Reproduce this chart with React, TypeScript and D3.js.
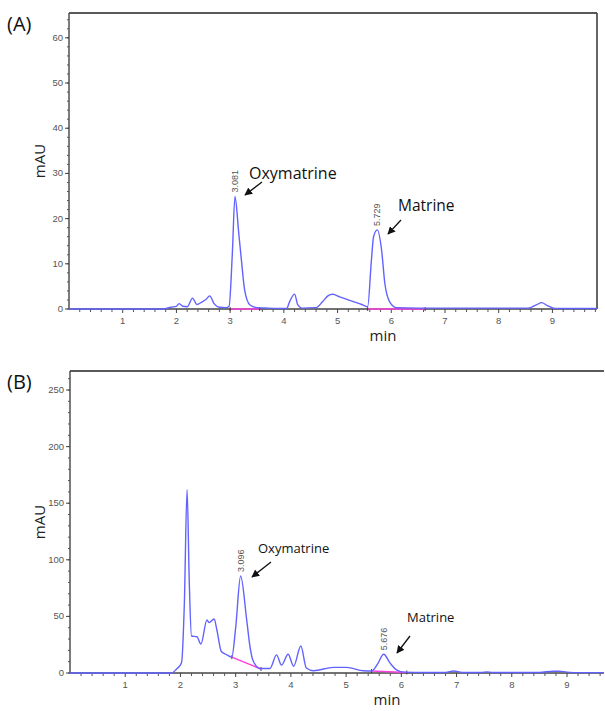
import React from 'react';
import { scaleLinear, line, curveMonotoneX, range } from 'd3';

// chromatogram (A)
const timeA = [0, 1.75, 1.9, 2.0, 2.05, 2.12, 2.2, 2.3, 2.38, 2.48, 2.55, 2.62, 2.7, 2.8, 2.92, 2.98, 3.04, 3.09, 3.16, 3.21, 3.27, 3.37, 3.5, 3.7, 4.05, 4.11, 4.2, 4.26, 4.34, 4.6, 4.72, 4.82, 4.91, 5.04, 5.28, 5.45, 5.56, 5.63, 5.67, 5.74, 5.82, 5.88, 5.97, 6.1, 6.5, 8.55, 8.7, 8.8, 8.9, 9.05, 9.83];
const mauA = [0, 0, 0.4, 0.6, 1.2, 0.6, 0.5, 2.4, 1.0, 1.6, 2.1, 2.9, 1.2, 0.4, 0.3, 0.6, 12, 24.9, 16.8, 10.8, 4.2, 0.9, 0.3, 0.2, 0.1, 1.7, 3.3, 0.9, 0.2, 0.3, 1.6, 2.9, 3.25, 2.7, 1.7, 1.0, 0.5, 10.8, 16, 17.5, 13, 5.7, 1.6, 0.3, 0.2, 0.2, 0.9, 1.4, 0.8, 0.1, 0.1];
const baselinesA = [[3.0, 0, 3.55, 0], [5.56, 0, 6.63, 0]];

// chromatogram (B)
const timeB = [0, 1.84, 1.93, 2.02, 2.07, 2.12, 2.16, 2.2, 2.3, 2.37, 2.48, 2.52, 2.61, 2.66, 2.74, 2.84, 2.93, 3.0, 3.09, 3.2, 3.26, 3.31, 3.44, 3.62, 3.74, 3.83, 3.95, 4.05, 4.18, 4.28, 4.41, 4.77, 5.01, 5.31, 5.46, 5.57, 5.68, 5.8, 5.92, 6.05, 6.4, 6.8, 6.95, 7.1, 7.45, 7.55, 7.65, 8.5, 8.75, 8.85, 9.0, 9.2, 9.67];
const mauB = [0, 0, 3.5, 9, 60, 162, 80, 32.7, 32, 25.6, 46.8, 44.5, 47.7, 38, 19, 16, 14, 40, 85.7, 46.8, 23, 11.5, 4, 4, 16, 7, 16.5, 6, 23.8, 4.4, 2, 5, 5, 2, 1.8, 8, 16.5, 8.5, 2.6, 0.8, 0.5, 0.5, 1.8, 0.5, 0.5, 1.0, 0.5, 0.5, 1.6, 1.6, 0.8, 0.3, 0.3];
const baselinesB = [[2.93, 14, 3.46, 3.5], [5.46, 1.8, 6.1, 0.5]];

const xTicks = [1, 2, 3, 4, 5, 6, 7, 8, 9];
const yTicksA = [0, 10, 20, 30, 40, 50, 60];
const yTicksB = [0, 50, 100, 150, 200, 250];

const peakLabelsA = [{ rt: '3.081', t: 3.09, v: 24.9 }, { rt: '5.729', t: 5.74, v: 17.5 }];
const peakLabelsB = [{ rt: '3.096', t: 3.09, v: 85.7 }, { rt: '5.676', t: 5.68, v: 16.5 }];

const tickFont = '"Liberation Sans Narrow", "Liberation Sans", Arial, sans-serif';
const textFont = '"Open Sans", "Noto Sans", sans-serif';

type Ann = { name: string; size: number; tx: number; ty: number; x1: number; y1: number; x2: number; y2: number };

function Panel({ letter, top, bottom, left, right, xMax, yMax, yMinor, times, values, baselines, yTicks, peaks, anns, frameRight }: any) {
  const x = scaleLinear().domain([0, xMax]).range([left, right]);
  const y = scaleLinear().domain([0, yMax]).range([bottom, top]);
  const pts = times.map((t: number, i: number) => [t, values[i]]);
  const path = line<number[]>().x((d) => x(d[0])).y((d) => y(d[1])).curve(curveMonotoneX)(pts);
  const minorX = range(0.2, xMax, 0.2).filter((t) => Math.abs(t - Math.round(t)) > 0.01);
  const minorY = range(0, yMax, yMinor);
  return (
    <g>
      <text x={7} y={top + 18} fontFamily={textFont} fontSize={20} fill="#111">({letter})</text>
      {/* frame */}
      <line x1={left} x2={right} y1={top} y2={top} stroke="#222" strokeWidth={1.5} />
      {frameRight && <line x1={right} x2={right} y1={top} y2={bottom} stroke="#333" strokeWidth={1.5} />}
      <line x1={left} x2={left} y1={top} y2={bottom} stroke="#444" strokeWidth={1.4} />
      <line x1={left} x2={right} y1={bottom} y2={bottom} stroke="#444" strokeWidth={1.4} />
      {/* y ticks */}
      {minorY.map((v: number) => (
        <line key={'ym' + v} x1={left - 2} x2={left} y1={y(v)} y2={y(v)} stroke="#555" strokeWidth={1} />
      ))}
      {yTicks.map((v: number) => (
        <g key={'y' + v}>
          <line x1={left - 4} x2={left} y1={y(v)} y2={y(v)} stroke="#444" strokeWidth={1} />
          <text x={left - 6} y={y(v) + 3} textAnchor="end" fontFamily={tickFont} fontSize={9.5} fill="#555">{v}</text>
        </g>
      ))}
      {/* x ticks */}
      {minorX.map((t: number) => (
        <line key={'xm' + t} x1={x(t)} x2={x(t)} y1={bottom} y2={bottom + 3} stroke="#555" strokeWidth={1} />
      ))}
      {xTicks.map((t: number) => (
        <g key={'x' + t}>
          <line x1={x(t)} x2={x(t)} y1={bottom} y2={bottom + 4} stroke="#444" strokeWidth={1} />
          <text x={x(t)} y={bottom + 15} textAnchor="middle" fontFamily={tickFont} fontSize={9.5} fill="#555">{t}</text>
        </g>
      ))}
      <text transform={`translate(${45},${(top + bottom) / 2}) rotate(-90)`} textAnchor="middle" fontFamily={textFont} fontSize={15} fill="#222">mAU</text>
      <text x={(left + right) / 2 + 50} y={bottom + 32} textAnchor="middle" fontFamily={textFont} fontSize={15} fill="#222">min</text>
      {/* integration baselines */}
      {baselines.map((b: number[], i: number) => (
        <g key={'b' + i}>
          <line x1={x(b[0])} x2={x(b[2])} y1={y(b[1])} y2={y(b[3])} stroke="#ff40e0" strokeWidth={1.5} />
          <line x1={x(b[0])} x2={x(b[0])} y1={y(b[1]) - 2} y2={y(b[1]) + 2} stroke="#222" strokeWidth={0.8} />
          <line x1={x(b[2])} x2={x(b[2])} y1={y(b[3]) - 2} y2={y(b[3]) + 2} stroke="#222" strokeWidth={0.8} />
        </g>
      ))}
      <path d={path || ''} fill="none" stroke="#6262ff" strokeWidth={1.4} />
      {peaks.map((p: any) => (
        <text key={p.rt} transform={`translate(${x(p.t) + 3},${y(p.v) - 4}) rotate(-90)`} fontFamily={tickFont} fontSize={9} fill="#555">{p.rt}</text>
      ))}
      {anns.map((a: Ann) => (
        <g key={a.name}>
          <text x={a.tx} y={a.ty} fontFamily={textFont} fontSize={a.size} fill="#111">{a.name}</text>
          <line x1={a.x1} y1={a.y1} x2={a.x2} y2={a.y2} stroke="#111" strokeWidth={1.3} markerEnd="url(#arrow)" />
        </g>
      ))}
    </g>
  );
}

export default function App() {
  const annsA: Ann[] = [
    { name: 'Oxymatrine', size: 16, tx: 249, ty: 179, x1: 262, y1: 182, x2: 245, y2: 195 },
    { name: 'Matrine', size: 15.5, tx: 398, ty: 211, x1: 401, y1: 220, x2: 388, y2: 234 },
  ];
  const annsB: Ann[] = [
    { name: 'Oxymatrine', size: 13, tx: 258, ty: 553, x1: 271, y1: 562, x2: 252, y2: 577 },
    { name: 'Matrine', size: 13, tx: 407, ty: 622, x1: 410, y1: 636, x2: 397, y2: 653 },
  ];
  return (
    <svg width={605} height={711} style={{ position: 'absolute', left: 0, top: 0, background: '#fff' }}>
      <defs>
        <marker id="arrow" viewBox="0 0 10 10" refX={9} refY={5} markerWidth={6} markerHeight={6} orient="auto-start-reverse">
          <path d="M0,0 L10,5 L0,10 z" fill="#111" />
        </marker>
      </defs>
      <rect width={605} height={711} fill="#fff" />
      <Panel letter="A" top={13} bottom={309} left={69} right={597} xMax={9.83} yMax={65.5} yMinor={2}
        times={timeA} values={mauA} baselines={baselinesA} yTicks={yTicksA} peaks={peakLabelsA} anns={annsA} frameRight />
      <Panel letter="B" top={371} bottom={673} left={70} right={604} xMax={9.67} yMax={266.8} yMinor={10}
        times={timeB} values={mauB} baselines={baselinesB} yTicks={yTicksB} peaks={peakLabelsB} anns={annsB} frameRight={false} />
    </svg>
  );
}
